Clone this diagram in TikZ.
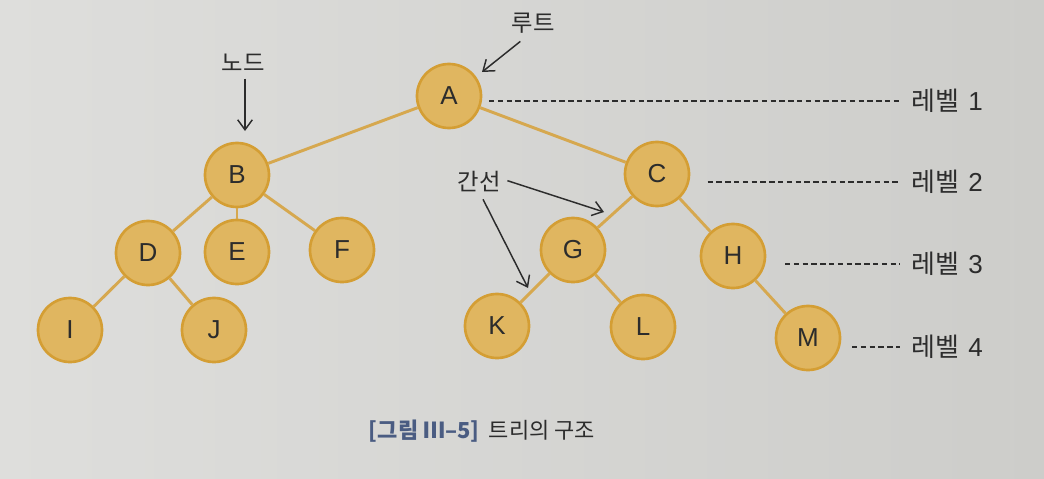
\documentclass[tikz,border=0pt]{standalone}
\usepackage{fontspec}
\setmainfont{Noto Sans CJK KR}
\newfontfamily\latsans{Liberation Sans}
\usetikzlibrary{arrows.meta}
\definecolor{bgl}{HTML}{DEDEDC}
\definecolor{bgr}{HTML}{CDCDCA}
\definecolor{nodefill}{HTML}{E0B660}
\definecolor{nodeline}{HTML}{D49E34}
\definecolor{edgecol}{HTML}{D6A84F}
\definecolor{ink}{HTML}{2C2C2C}
\definecolor{capblue}{HTML}{4A5C82}
\begin{document}
\begin{tikzpicture}[x=0.75pt,y=-0.75pt,
  tnode/.style={circle,draw=nodeline,fill=nodefill,line width=2pt,minimum size=48pt,inner sep=0pt,
    font=\latsans\fontsize{19.5}{22}\selectfont,text=ink},
  tedge/.style={draw=edgecol,line width=2.2pt},
  callout/.style={draw=ink,line width=1.1pt,-{Straight Barb[length=7.5pt,width=11pt,line width=1.1pt]}},
  lvl/.style={draw=ink,line width=1pt,dash pattern=on 4pt off 2.6pt},
  lbl/.style={font=\fontsize{17.5}{20}\selectfont,text=ink,inner sep=0pt},
  lvllbl/.style={font=\fontsize{19.5}{22}\selectfont,text=ink,inner sep=0pt,anchor=west}]
\shade[left color=bgl,right color=bgr] (0,0) rectangle (1044,478);
\useasboundingbox (0,0) rectangle (1044,478);

% nodes
\node[tnode] (A) at (449,96) {A};
\node[tnode] (B) at (237,175) {B};
\node[tnode] (C) at (657,174) {C};
\node[tnode] (D) at (148,253) {D};
\node[tnode] (E) at (237,252) {E};
\node[tnode] (F) at (342,250) {F};
\node[tnode] (G) at (573,250) {G};
\node[tnode] (H) at (733,256) {H};
\node[tnode] (I) at (70,330) {I};
\node[tnode] (J) at (214,330) {J};
\node[tnode] (K) at (497,326) {K};
\node[tnode] (L) at (643,327) {L};
\node[tnode] (M) at (808,338) {M};

% edges
\foreach \a/\b in {A/B,A/C,B/D,B/E,B/F,D/I,D/J,C/G,C/H,G/K,G/L,H/M}
  \draw[tedge] (\a) -- (\b);

% level labels
\node[lvllbl] (lv1) at (911,101) {레벨\hspace{7pt}{\latsans 1}};
\node[lvllbl] (lv2) at (911,182) {레벨\hspace{7pt}{\latsans 2}};
\node[lvllbl] (lv3) at (911,264) {레벨\hspace{7pt}{\latsans 3}};
\node[lvllbl] (lv4) at (911,347) {레벨\hspace{7pt}{\latsans 4}};
\path (A.east |- lv1.west) coordinate (d1);
\path (C.east |- lv2.west) coordinate (d2);
\path (H.east |- lv3.west) coordinate (d3);
\path (M.east |- lv4.west) coordinate (d4);
\draw[lvl] ([xshift=5pt]d1) -- ([xshift=-8pt]lv1.west);
\draw[lvl] ([xshift=13pt]d2) -- ([xshift=-8pt]lv2.west);
\draw[lvl] ([xshift=14pt]d3) -- ([xshift=-8pt]lv3.west);
\draw[lvl] ([xshift=8pt]d4) -- ([xshift=-8pt]lv4.west);

% callouts
\node[lbl] (root) at (533,23) {루트};
\coordinate (rootTip) at (482,72);
\draw[callout] ([xshift=-9.5pt,yshift=-6pt]root.south) -- (rootTip);

\node[lbl] (nodelbl) at (243,63) {노드};
\coordinate (nodeTip) at (245,131);
\draw[callout] ([xshift=1.5pt,yshift=-5pt]nodelbl.south) -- (nodeTip);

\node[lbl] (edgelbl) at (479,182) {간선};
\coordinate (edgeTipA) at (604,212);
\coordinate (edgeTipB) at (528,288);
\draw[callout] ([xshift=5pt,yshift=1pt]edgelbl.east) -- (edgeTipA);
\draw[callout] ([xshift=3pt,yshift=-5pt]edgelbl.south) -- (edgeTipB);

% caption
\node[font=\fontsize{16.5}{19}\selectfont,text=ink,inner sep=0pt] (cap) at (482,431)
  {\textcolor{capblue}{\bfseries [그림 Ⅲ–5]}\hspace{7pt}트리의 구조};
\end{tikzpicture}
\end{document}
